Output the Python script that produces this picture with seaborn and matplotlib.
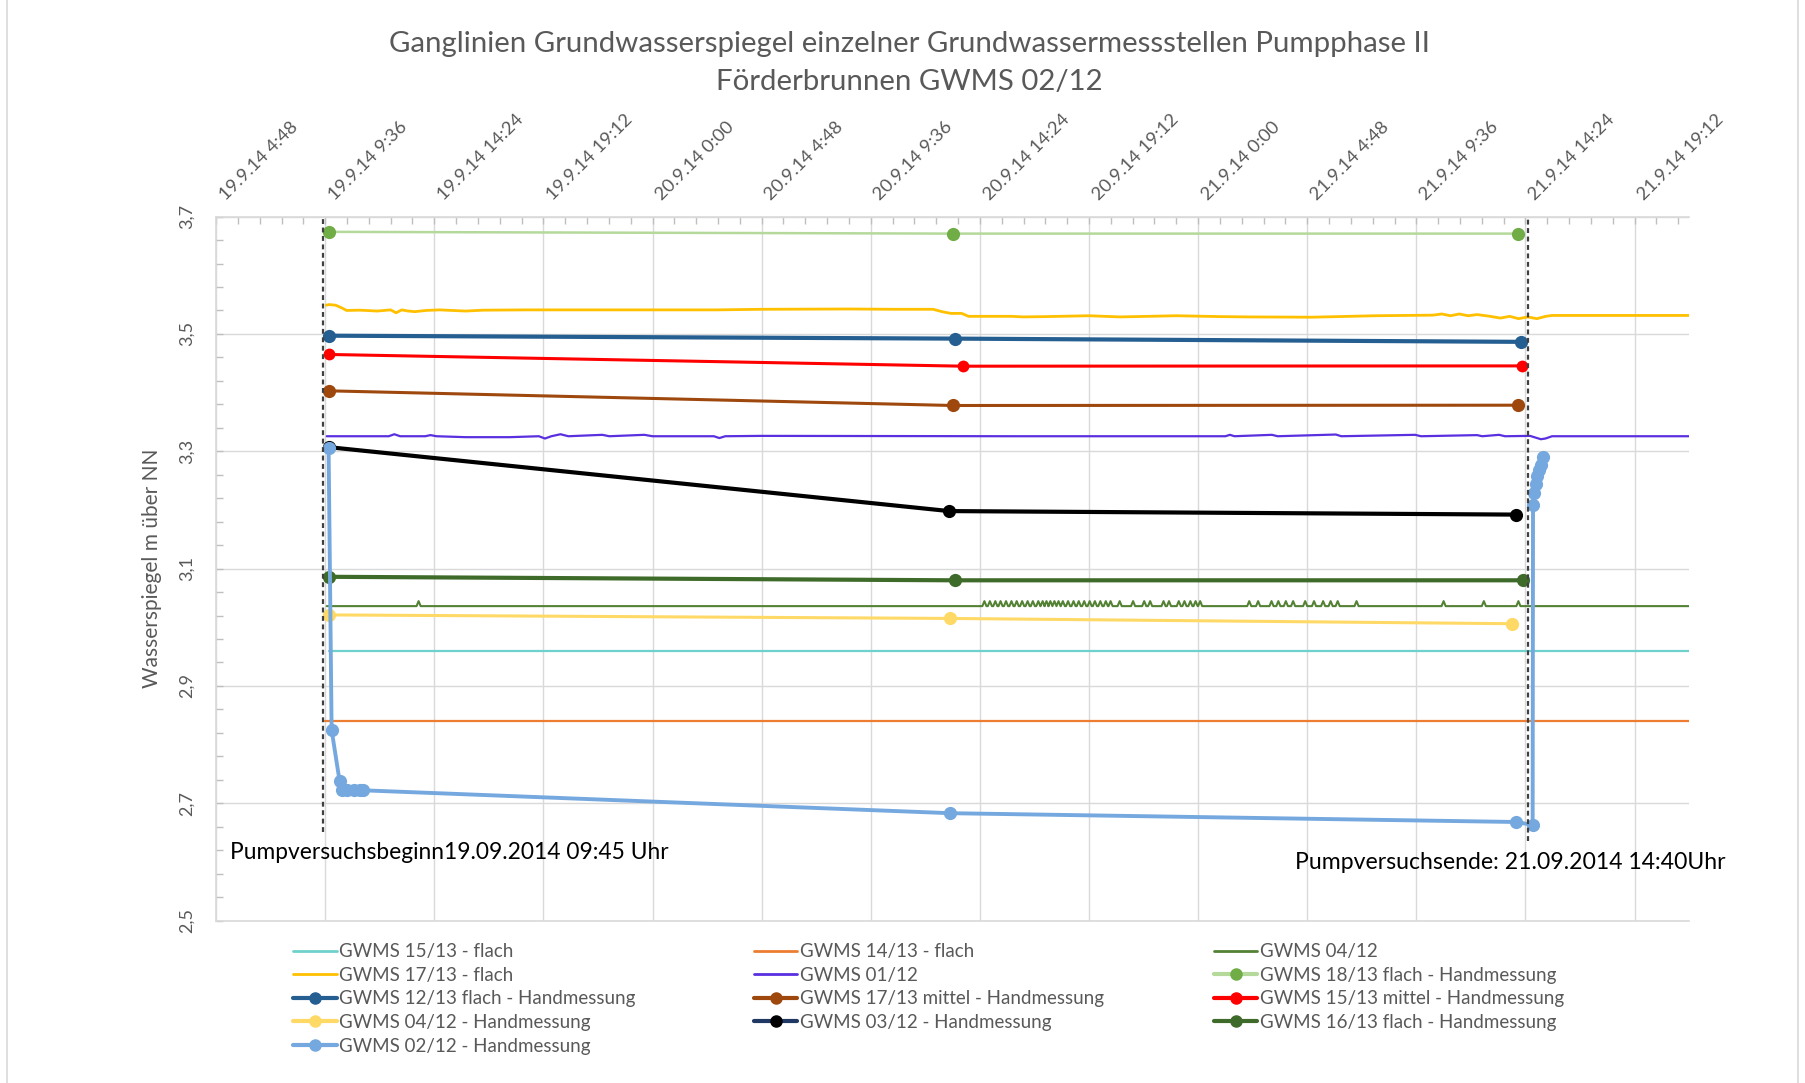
import datetime as dt
import numpy as np
import pandas as pd
import matplotlib
matplotlib.use("Agg")
import matplotlib.pyplot as plt
import matplotlib.dates as mdates
import matplotlib.transforms as mtransforms
from matplotlib.ticker import FixedLocator, MultipleLocator
from matplotlib.lines import Line2D
import seaborn as sns

# ---------------------------------------------------------------- text
TITLE_LINE_1 = "Ganglinien Grundwasserspiegel einzelner Grundwassermessstellen Pumpphase II"
TITLE_LINE_2 = "Förderbrunnen GWMS 02/12"
Y_LABEL = "Wasserspiegel m über NN"
BEGIN_TEXT = "Pumpversuchsbeginn19.09.2014 09:45 Uhr"
END_TEXT = "Pumpversuchsende: 21.09.2014 14:40Uhr"

x_tick_labels = ["19.9.14 4:48", "19.9.14 9:36", "19.9.14 14:24", "19.9.14 19:12",
                 "20.9.14 0:00", "20.9.14 4:48", "20.9.14 9:36", "20.9.14 14:24",
                 "20.9.14 19:12", "21.9.14 0:00", "21.9.14 4:48", "21.9.14 9:36",
                 "21.9.14 14:24", "21.9.14 19:12"]
x_axis_end = "21.9.14 21:36"
y_ticks = [2.5, 2.7, 2.9, 3.1, 3.3, 3.5, 3.7]
y_tick_labels = ["2,5", "2,7", "2,9", "3,1", "3,3", "3,5", "3,7"]

# ---------------------------------------------------------------- hand measurements
gwms1813_times = ["19.09.2014 09:45", "20.09.2014 13:12", "21.09.2014 14:04"]
gwms1813_values = [3.674, 3.671, 3.671]

gwms1213_times = ["19.09.2014 09:45", "20.09.2014 13:18", "21.09.2014 14:11"]
gwms1213_values = [3.497, 3.492, 3.4865]

gwms1713m_times = ["19.09.2014 09:45", "20.09.2014 13:12", "21.09.2014 14:04"]
gwms1713m_values = [3.403, 3.378, 3.3785]

gwms1513m_times = ["19.09.2014 09:45", "20.09.2014 13:40", "21.09.2014 14:16"]
gwms1513m_values = [3.465, 3.445, 3.4455]

gwms0412h_times = ["19.09.2014 09:45", "20.09.2014 13:06", "21.09.2014 13:49"]
gwms0412h_values = [3.021, 3.015, 3.006]

gwms0312_times = ["19.09.2014 09:45", "20.09.2014 13:03", "21.09.2014 14:00"]
gwms0312_values = [3.307, 3.198, 3.192]

gwms1613_times = ["19.09.2014 09:45", "20.09.2014 13:18", "21.09.2014 14:17"]
gwms1613_values = [3.086, 3.080, 3.080]

gwms0212_times = ["19.09.2014 09:45", "19.09.2014 09:53", "19.09.2014 10:14", "19.09.2014 10:20",
                  "19.09.2014 10:33", "19.09.2014 10:51", "19.09.2014 11:08", "19.09.2014 11:17",
                  "20.09.2014 13:06", "21.09.2014 14:00", "21.09.2014 14:43", "21.09.2014 14:44",
                  "21.09.2014 14:47", "21.09.2014 14:51", "21.09.2014 14:55", "21.09.2014 15:00",
                  "21.09.2014 15:05", "21.09.2014 15:10"]
gwms0212_values = [3.306, 2.825, 2.738, 2.723, 2.723, 2.723, 2.723, 2.722,
                   2.683, 2.668, 2.663, 3.209, 3.228, 3.245, 3.258, 3.268, 3.277, 3.290]

# ---------------------------------------------------------------- data loggers
# hours counted from 19.09.2014 00:00
LOGGER_START = "19.09.2014 00:00"

gwms1513f_hours = [9.75, 69.6]
gwms1513f_values = [2.959, 2.959]

gwms1413f_hours = [9.6, 69.6]
gwms1413f_values = [2.841, 2.841]

gwms1713f_hours = [9.65, 9.77, 10.06, 10.35, 10.54, 11.12, 11.90, 12.48, 12.72, 12.97,
                   13.25, 13.55, 14.03, 14.62, 15.19, 15.78, 16.56, 18.50, 22.96, 26.84,
                   28.78, 32.66, 34.60, 36.34, 36.73, 37.12, 37.60, 37.90, 39.80, 40.29,
                   41.26, 43.20, 44.56, 47.07, 49.00, 50.18, 52.99, 55.80, 58.33, 58.72,
                   59.10, 59.49, 59.88, 60.27, 60.85, 61.30, 61.70, 62.10, 62.50, 62.90,
                   63.30, 63.57, 69.60]
gwms1713f_values = [3.549, 3.550, 3.549, 3.544, 3.540, 3.5405, 3.539, 3.541, 3.536, 3.541,
                    3.539, 3.538, 3.540, 3.541, 3.540, 3.539, 3.5405, 3.541, 3.541, 3.541,
                    3.542, 3.5425, 3.542, 3.542, 3.538, 3.535, 3.535, 3.530, 3.530, 3.529,
                    3.5295, 3.531, 3.529, 3.531, 3.5295, 3.529, 3.5285, 3.531, 3.532, 3.534,
                    3.531, 3.534, 3.531, 3.533, 3.530, 3.527, 3.530, 3.526, 3.529, 3.526,
                    3.530, 3.5315, 3.5315]

gwms0112_hours = [9.67, 12.40, 12.64, 12.90, 14.00, 14.23, 14.50, 15.78, 17.72, 19.00,
                  19.27, 19.55, 19.95, 20.30, 21.79, 22.10, 23.64, 24.00, 26.70, 26.94,
                  27.20, 28.78, 39.80, 49.20, 49.40, 49.60, 51.25, 51.50, 54.06, 54.30,
                  57.55, 57.80, 60.27, 60.50, 61.24, 61.50, 62.60, 63.08, 63.28, 63.57,
                  69.60]
gwms0112_values = [3.3256, 3.3256, 3.3290, 3.3256, 3.3256, 3.3275, 3.3256, 3.3240, 3.3240, 3.3256,
                   3.3217, 3.3256, 3.3290, 3.3256, 3.3280, 3.3256, 3.3280, 3.3256, 3.3256, 3.3225,
                   3.3256, 3.3262, 3.3256, 3.3256, 3.3280, 3.3256, 3.3280, 3.3256, 3.3285, 3.3256,
                   3.3280, 3.3256, 3.3275, 3.3256, 3.3280, 3.3256, 3.3262, 3.3205, 3.3217, 3.3256,
                   3.3256]

gwms0412_hours_range = [9.67, 69.6]
gwms0412_base = 3.036
gwms0412_spike_top = 3.0445
gwms0412_spike_hours = [13.71,
                        38.60, 38.84, 39.08, 39.31, 39.55, 39.79, 40.02, 40.26, 40.50, 40.73,
                        40.97, 41.16, 41.33, 41.50, 41.68, 41.86, 42.05, 42.28, 42.52, 42.75,
                        42.99, 43.23, 43.46, 43.70, 43.94, 44.15,
                        44.55, 45.14, 45.63, 45.89, 46.48, 46.72, 47.15, 47.40, 47.66, 47.89, 48.09,
                        50.25, 50.64, 51.23, 51.53, 51.86, 52.18, 52.71, 53.10, 53.50, 53.83,
                        54.14, 54.97,
                        58.80, 60.57, 62.09]

# pump test markers (dotted vertical lines)
pump_line_times = ["19.09.2014 09:31", "21.09.2014 14:32"]
pump_line_bottoms = [2.651, 2.636]

# ---------------------------------------------------------------- helpers
FMT = "%d.%m.%Y %H:%M"


def to_time(strings):
    return pd.to_datetime(strings, format=FMT)


def hours_to_time(hours):
    return pd.Timestamp(dt.datetime.strptime(LOGGER_START, FMT)) + pd.to_timedelta(hours, unit="h")


def spike_series(hrange, base, top, spikes, half=0.09):
    h = [hrange[0]]
    v = [base]
    for s in spikes:
        h += [s - half, s, s + half]
        v += [base, top, base]
    h.append(hrange[1])
    v.append(base)
    return h, v


# ---------------------------------------------------------------- styling
sns.set_theme(style="white")
plt.rcParams["font.family"] = ["Lato", "DejaVu Sans"]
TXT = "#595959"
GRID = "#d9d9d9"

fig = plt.figure(figsize=(18.05, 10.83), dpi=100)
ax = fig.add_axes([0.1197, 0.150, 0.8161, 0.650])


def draw(t, v, color, lw, marker=None, ms=0, mfc=None, z=2):
    df = pd.DataFrame({"t": t, "v": v})
    mc = mfc if mfc is not None else color
    kw = {}
    if marker is not None:
        kw = dict(marker=marker, markersize=ms, markerfacecolor=mc,
                  markeredgecolor=mc, markeredgewidth=0)
    sns.lineplot(data=df, x="t", y="v", ax=ax, color=color, linewidth=lw,
                 estimator=None, errorbar=None, sort=False, legend=False,
                 zorder=z, **kw)


# logger series
draw(hours_to_time(gwms1513f_hours), gwms1513f_values, "#6fd1cc", 1.6)
draw(hours_to_time(gwms1413f_hours), gwms1413f_values, "#ed7d31", 1.6)
h0412, v0412 = spike_series(gwms0412_hours_range, gwms0412_base, gwms0412_spike_top,
                            gwms0412_spike_hours)
draw(hours_to_time(h0412), v0412, "#548235", 1.5)
draw(hours_to_time(gwms1713f_hours), gwms1713f_values, "#ffc000", 2.0)
draw(hours_to_time(gwms0112_hours), gwms0112_values, "#5a2fe0", 1.6)

# hand measurements
MS = 9.5
draw(to_time(gwms1813_times), gwms1813_values, "#b4d99b", 1.8, "o", MS, "#70ad47", 3)
draw(to_time(gwms1213_times), gwms1213_values, "#255e91", 3.0, "o", MS, None, 3)
draw(to_time(gwms1713m_times), gwms1713m_values, "#9e480e", 2.2, "o", MS, None, 3)
draw(to_time(gwms1513m_times), gwms1513m_values, "#ff0000", 2.2, "o", MS - 1, None, 3)
draw(to_time(gwms0412h_times), gwms0412h_values, "#ffd966", 2.2, "o", MS, None, 3)
draw(to_time(gwms0312_times), gwms0312_values, "#000000", 3.0, "o", MS, None, 3)
draw(to_time(gwms1613_times), gwms1613_values, "#3f6b2a", 3.0, "o", MS, None, 3)
draw(to_time(gwms0212_times), gwms0212_values, "#75a8de", 2.8, "o", MS, None, 4)

# pump start / end markers
for t, b in zip(to_time(pump_line_times), pump_line_bottoms):
    ax.vlines(t, b, 3.7, colors="#404040", linestyles=(0, (2.2, 1.6)), linewidth=1.6, zorder=5)

# ---------------------------------------------------------------- axes
tick_pos = [dt.datetime.strptime(s, "%d.%m.%y %H:%M") for s in x_tick_labels]
x_end = dt.datetime.strptime(x_axis_end, "%d.%m.%y %H:%M")
ax.set_xlim(tick_pos[0], x_end)
ax.set_ylim(y_ticks[0], y_ticks[-1])
ax.xaxis.set_major_locator(FixedLocator(mdates.date2num(tick_pos)))
ax.xaxis.set_minor_locator(MultipleLocator(0.04))
ax.set_xticklabels(x_tick_labels)
ax.set_yticks(y_ticks)
ax.set_yticklabels(y_tick_labels, rotation=90, va="center")
ax.yaxis.set_minor_locator(MultipleLocator(0.04, offset=0.02))

ax.xaxis.tick_top()
ax.tick_params(axis="x", which="both", top=True, bottom=False, labeltop=True,
               labelbottom=False, direction="in", length=5, width=1, color="#bfbfbf")
ax.tick_params(axis="x", which="major", pad=10, labelsize=13.2, labelcolor=TXT)
ax.tick_params(axis="y", which="both", left=True, direction="in", length=5, width=1,
               color="#bfbfbf")
ax.tick_params(axis="y", which="major", pad=15, labelsize=13, labelcolor=TXT)
shift = mtransforms.ScaledTranslation(8.5 / 72, 0, fig.dpi_scale_trans)
for lab in ax.get_xticklabels():
    lab.set_rotation(45)
    lab.set_ha("left")
    lab.set_va("bottom")
    lab.set_rotation_mode("anchor")
    lab.set_transform(lab.get_transform() + shift)

ax.grid(True, which="major", color=GRID, linewidth=1.0)
ax.set_axisbelow(True)
for side in ["left", "top", "bottom"]:
    ax.spines[side].set_color(GRID)
    ax.spines[side].set_linewidth(1.2)
ax.spines["right"].set_visible(False)

ax.set_xlabel("")
ax.set_ylabel(Y_LABEL, fontsize=15, color=TXT)
ax.yaxis.set_label_coords(-0.037, 0.5)

# annotations
ax.text(0.0095, 0.096, BEGIN_TEXT, transform=ax.transAxes, ha="left", va="center",
        fontsize=16.4, color="#000000")
ax.text(0.7325, 0.082, END_TEXT, transform=ax.transAxes, ha="left", va="center",
        fontsize=16.6, color="#000000")

# title
fig.text(0.5037, 0.9590, TITLE_LINE_1, ha="center", va="center", fontsize=21.2, color=TXT)
fig.text(0.5037, 0.9245, TITLE_LINE_2, ha="center", va="center", fontsize=21.2, color=TXT)

# ---------------------------------------------------------------- legend
def lh(color, lw, marker=False, mfc=None):
    if marker:
        mc = mfc if mfc is not None else color
        return Line2D([], [], color=color, linewidth=lw, marker="o", markersize=8,
                      markerfacecolor=mc, markeredgecolor=mc)
    return Line2D([], [], color=color, linewidth=lw)


col1 = [("GWMS 15/13 - flach", lh("#6fd1cc", 2.0)),
        ("GWMS 17/13 - flach", lh("#ffc000", 2.0)),
        ("GWMS 12/13 flach - Handmessung", lh("#255e91", 3.0, True)),
        ("GWMS 04/12 - Handmessung", lh("#ffd966", 3.0, True)),
        ("GWMS 02/12 - Handmessung", lh("#75a8de", 3.0, True))]
col2 = [("GWMS 14/13 - flach", lh("#ed7d31", 2.0)),
        ("GWMS 01/12", lh("#5a2fe0", 2.0)),
        ("GWMS 17/13 mittel - Handmessung", lh("#9e480e", 3.0, True)),
        ("GWMS 03/12 - Handmessung", lh("#1f3864", 3.0, True, "#000000"))]
col3 = [("GWMS 04/12", lh("#548235", 2.0)),
        ("GWMS 18/13 flach - Handmessung", lh("#b4d99b", 3.0, True, "#70ad47")),
        ("GWMS 15/13 mittel - Handmessung", lh("#ff0000", 3.0, True)),
        ("GWMS 16/13 flach - Handmessung", lh("#3f6b2a", 3.0, True))]

for col, x0 in [(col1, 0.1626), (col2, 0.4177), (col3, 0.6726)]:
    fig.legend([h for _, h in col], [l for l, _ in col], loc="upper left",
               bbox_to_anchor=(x0, 0.1290), frameon=False, fontsize=13.5,
               labelcolor=TXT, handlelength=2.3, handletextpad=0.15,
               labelspacing=0.35, borderpad=0, borderaxespad=0)

# chart area border
for xx in (0.004, 0.996):
    fig.add_artist(Line2D([xx, xx], [0, 1], transform=fig.transFigure, color=GRID, linewidth=1.2))

fig.savefig("out.png", dpi=100)
